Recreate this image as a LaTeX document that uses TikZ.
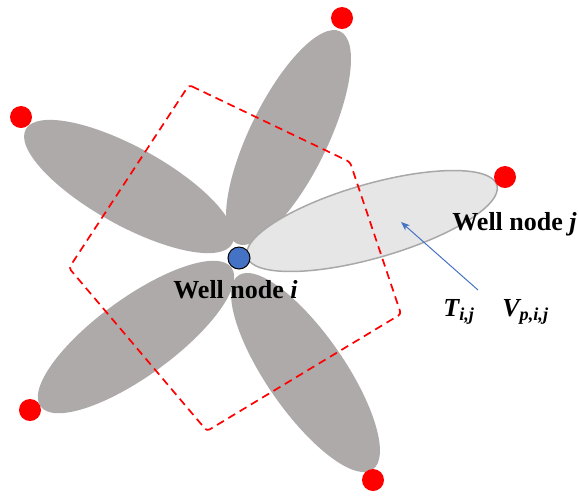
\documentclass[tikz,border=0pt]{standalone}
\usepackage{fontspec}
\setmainfont{Liberation Serif}
\usetikzlibrary{arrows.meta,shapes.geometric}
\definecolor{PetalGray}{RGB}{174,170,170}
\definecolor{PetalLight}{RGB}{230,230,230}
\definecolor{PetalEdge}{RGB}{168,168,168}
\definecolor{WellBlue}{RGB}{68,114,196}
\tikzset{
  petal/.style={ellipse,fill=PetalGray,inner sep=0pt,
                minimum width=118pt,minimum height=39pt},
  jpetal/.style={petal,fill=PetalLight,draw=PetalEdge,line width=0.75pt,
                 minimum width=130pt,minimum height=37pt},
  tip/.style={circle,fill=red,inner sep=0pt,minimum size=11pt},
  well/.style={circle,fill=WellBlue,draw=black,line width=0.5pt,
               inner sep=0pt,minimum size=11pt},
  cell/.style={red,dashed,dash pattern=on 4pt off 2.6pt,line width=0.85pt,
               rounded corners=1.5pt},
  lab/.style={font=\fontsize{13}{15}\selectfont\bfseries,inner sep=0pt},
  flux/.style={-{Stealth[length=4.5pt,width=3.5pt]},WellBlue,line width=0.5pt},
}

\begin{document}
\begin{tikzpicture}[x=0.5pt,y=-0.5pt]
  \useasboundingbox (0,0) rectangle (579,495);
  % petals around well node i
  \node[petal,rotate=64]    (pu)  at (288.5,137.5) {};
  \node[petal,rotate=151]   (pul) at (129,186.5) {};
  \node[petal,rotate=216]   (pll) at (136,337) {};
  \node[petal,rotate=-55.3] (pd)  at (305.5,372.5) {};
  \node[jpetal,rotate=16]   (pj)  at (372,221) {};
  % neighbour wells
  \node[tip] (nu)  at (342,18) {};
  \node[tip] (nj)  at (505,177) {};
  \node[tip] (nul) at (21,117) {};
  \node[tip] (nll) at (30,410) {};
  \node[tip] (nd)  at (373,480) {};
  % control volume
  \draw[cell] (189,85) -- (350,162) -- (401,314) -- (207,431) -- (69,268) -- cycle;
  \node[well] (wi) at (239,258) {};
  \node[lab,anchor=base west] (li) at (173,298) {Well node \textit{i}};
  \node[lab,anchor=base west] (lj) at (452,230) {Well node \textit{j}};
  \node[lab,anchor=base west] (lt) at (443,316) {\textit{T\textsubscript{i,j}}};
  \node[lab,anchor=base west] (lv) at (502,316) {\textit{V\textsubscript{p,i,j}}};
  \coordinate (ft) at (478,290);
  \coordinate (fh) at (401,222);
  \draw[flux] (ft) -- (fh);
\end{tikzpicture}
\end{document}
